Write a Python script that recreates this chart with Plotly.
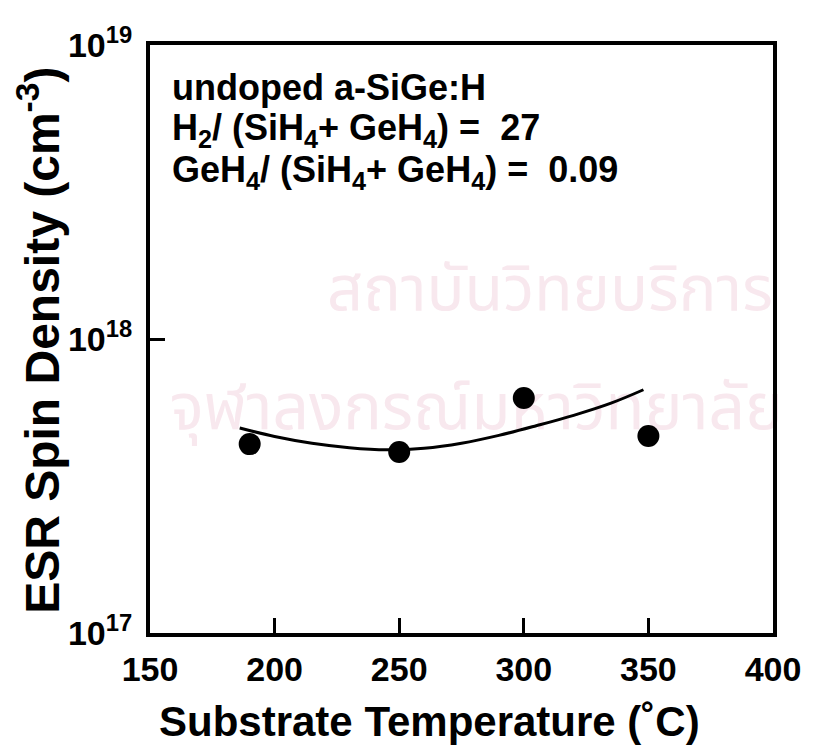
import plotly.graph_objects as go

# Measured ESR spin densities vs. substrate temperature
temperature = [190, 250, 300, 350]
spin_density = [4.39e17, 4.13e17, 6.3e17, 4.68e17]

# Fitted trend curve
fit_temperature = [186, 200, 215, 230, 245, 260, 275, 290, 305, 320, 335, 348]
fit_density = [4.98e17, 4.66e17, 4.42e17, 4.27e17, 4.20e17, 4.25e17,
               4.42e17, 4.70e17, 5.07e17, 5.50e17, 6.05e17, 6.72e17]

x_ticks = [150, 200, 250, 300, 350, 400]
y_ticks = [1e17, 1e18, 1e19]
y_tick_text = ["10<sup>17</sup>", "10<sup>18</sup>", "10<sup>19</sup>"]

sample_lines = [
    "undoped a-SiGe:H",
    "H<sub>2</sub>/ (SiH<sub>4</sub>+ GeH<sub>4</sub>) =  27",
    "GeH<sub>4</sub>/ (SiH<sub>4</sub>+ GeH<sub>4</sub>) =  0.09",
]

# Faint institutional watermark lines behind the plot
watermark_lines = ["สถาบันวิทยบริการ", "จุฬาลงกรณ์มหาวิทยาลัย"]

FONT = "Liberation Sans, Arial, Helvetica, sans-serif"
THAI_FONT = "Noto Sans Thai, Noto Sans, DejaVu Sans, sans-serif"
WATERMARK = "#f8e8ee"

fig = go.Figure()

fig.add_trace(go.Scatter(
    x=[310.5], y=[1.42e18], mode="text", text=[watermark_lines[0]],
    textfont=dict(family=THAI_FONT, size=63, color=WATERMARK),
    hoverinfo="skip", showlegend=False, cliponaxis=False,
))
fig.add_trace(go.Scatter(
    x=[281], y=[5.6e17], mode="text", text=[watermark_lines[1]],
    textfont=dict(family=THAI_FONT, size=64, color=WATERMARK),
    hoverinfo="skip", showlegend=False, cliponaxis=False,
))
fig.add_trace(go.Scatter(
    x=fit_temperature, y=fit_density, mode="lines",
    line=dict(color="black", width=3, shape="spline"),
    hoverinfo="skip", showlegend=False,
))
fig.add_trace(go.Scatter(
    x=temperature, y=spin_density, mode="markers",
    marker=dict(color="black", size=22),
    showlegend=False,
))

axis_common = dict(
    showgrid=False, zeroline=False,
    showline=True, linecolor="black", linewidth=4, mirror=True,
    ticks="inside", ticklen=15, tickwidth=3, tickcolor="black",
    tickfont=dict(family=FONT, size=34, color="black", weight="bold"),
)

fig.update_xaxes(
    range=[150, 400], tickvals=x_ticks, ticklabelstandoff=3,
    **axis_common,
)
fig.update_yaxes(
    type="log", range=[17, 19], tickvals=y_ticks, ticktext=y_tick_text,
    ticklabelstandoff=7,
    **axis_common,
)

annotations = []
line_y = [0.927, 0.855, 0.784]
for text, yy in zip(sample_lines, line_y):
    annotations.append(dict(
        text=text, xref="paper", yref="paper", x=0.032, y=yy,
        xanchor="left", yanchor="middle", showarrow=False,
        font=dict(family=FONT, size=36, color="black", weight="bold"),
    ))

annotations.append(dict(
    text="Substrate Temperature (˚C)", xref="paper", yref="paper",
    x=0.449, y=-0.15, xanchor="center", yanchor="middle", showarrow=False,
    font=dict(family=FONT, size=42, color="black", weight="bold"),
))
annotations.append(dict(
    text="ESR Spin Density (cm<sup>-3</sup>)", xref="paper", yref="paper",
    x=-0.178, y=0.497, xanchor="center", yanchor="middle", showarrow=False,
    textangle=-90,
    font=dict(family=FONT, size=48, color="black", weight="bold"),
))

fig.update_layout(
    width=814, height=754,
    margin=dict(l=150, r=41, t=45, b=121),
    paper_bgcolor="white", plot_bgcolor="white",
    annotations=annotations,
)

fig.write_html("out.html")
